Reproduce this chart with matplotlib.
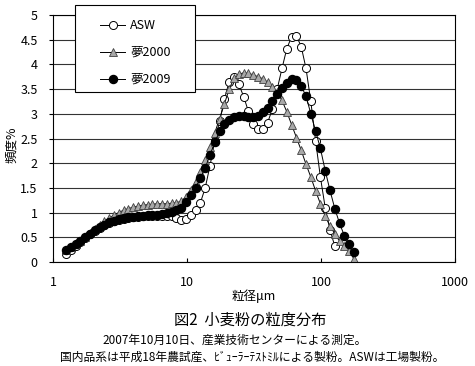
import matplotlib
matplotlib.use('Agg')
import matplotlib.pyplot as plt
from matplotlib.patches import Rectangle

plt.rcParams['font.family'] = ['Noto Sans CJK JP', 'DejaVu Sans']

# particle size (um)
x_um = [1.250, 1.358, 1.475, 1.602, 1.739, 1.889, 2.051, 2.227, 2.419, 2.627,
        2.852, 3.097, 3.364, 3.653, 3.967, 4.308, 4.679, 5.081, 5.518, 5.992,
        6.507, 7.068, 7.676, 8.336, 9.053, 9.829, 10.67, 11.59, 12.59, 13.67,
        14.85, 16.13, 17.51, 19.02, 20.65, 22.43, 24.36, 26.45, 28.72, 31.19,
        33.88, 36.79, 39.95, 43.39, 47.12, 51.17, 55.57, 60.35, 65.54, 71.17,
        77.29, 83.94, 91.15, 98.97, 107.5, 116.7, 126.8, 137.7, 149.5, 162.4,
        176.3]

# frequency %
asw = [0.17, 0.24, 0.32, 0.40, 0.48, 0.56, 0.63, 0.69, 0.74, 0.79,
       0.83, 0.86, 0.88, 0.90, 0.91, 0.92, 0.93, 0.93, 0.94, 0.94,
       0.94, 0.94, 0.93, 0.90, 0.86, 0.87, 0.95, 1.05, 1.20, 1.50,
       1.95, 2.45, 2.85, 3.30, 3.65, 3.75, 3.60, 3.35, 3.05, 2.80,
       2.70, 2.70, 2.82, 3.10, 3.50, 3.92, 4.32, 4.56, 4.58, 4.36,
       3.92, 3.25, 2.45, 1.72, 1.10, 0.65, 0.32]

yume2000 = [0.25, 0.30, 0.36, 0.43, 0.51, 0.59, 0.67, 0.75, 0.82, 0.89,
            0.95, 1.00, 1.05, 1.08, 1.11, 1.13, 1.15, 1.16, 1.17, 1.18,
            1.18, 1.18, 1.19, 1.20, 1.23, 1.32, 1.45, 1.62, 1.83, 2.07,
            2.33, 2.62, 2.90, 3.20, 3.50, 3.72, 3.80, 3.83, 3.82, 3.79,
            3.75, 3.71, 3.64, 3.54, 3.44, 3.27, 3.04, 2.78, 2.52, 2.26,
            1.98, 1.72, 1.44, 1.18, 0.93, 0.73, 0.57, 0.42, 0.32, 0.22,
            0.06]

yume2009 = [0.25, 0.30, 0.36, 0.43, 0.50, 0.57, 0.64, 0.70, 0.75, 0.80,
            0.84, 0.87, 0.89, 0.91, 0.92, 0.93, 0.94, 0.95, 0.95, 0.96,
            0.97, 0.99, 1.01, 1.05, 1.10, 1.21, 1.35, 1.50, 1.70, 1.90,
            2.17, 2.42, 2.65, 2.80, 2.88, 2.94, 2.96, 2.96, 2.94, 2.93,
            2.96, 3.03, 3.12, 3.26, 3.40, 3.53, 3.62, 3.70, 3.68, 3.56,
            3.36, 3.00, 2.65, 2.30, 1.85, 1.45, 1.08, 0.78, 0.53, 0.36,
            0.20]

W, H = 475, 366
fig = plt.figure(figsize=(W / 100, H / 100), dpi=100)
ax = fig.add_axes([53 / W, 1 - 262 / H, 402 / W, 247 / H])

ax.plot(x_um[:len(asw)], asw, '-o', color='black', lw=0.7, ms=5.8,
        mfc='white', mec='black', mew=0.7, label='ASW')
ax.plot(x_um, yume2000, '-^', color='black', lw=0.7, ms=6.2,
        mfc='#a8a8a8', mec='#404040', mew=0.6, label='夢2000')
ax.plot(x_um, yume2009, '-o', color='black', lw=0.7, ms=5.8,
        mfc='black', mec='black', label='夢2009')

ax.set_xscale('log')
ax.set_xlim(1, 1000)
ax.set_ylim(0, 5)
ax.set_xticks([1, 10, 100, 1000])
ax.set_xticklabels(['1', '10', '100', '1000'])
ax.minorticks_off()
ax.set_yticks([0, 0.5, 1, 1.5, 2, 2.5, 3, 3.5, 4, 4.5, 5])
ax.set_yticklabels(['0', '0.5', '1', '1.5', '2', '2.5', '3', '3.5', '4', '4.5', '5'])
ax.yaxis.grid(True, color='#333333', lw=0.8)
ax.set_axisbelow(True)
ax.tick_params(axis='x', direction='in', length=3, pad=10, labelsize=9)
ax.tick_params(axis='y', direction='out', length=3, pad=8, labelsize=9)
for s in ax.spines.values():
    s.set_linewidth(0.8)
    s.set_color('black')

# legend box
fig.patches.append(Rectangle((75 / W, 1 - 92 / H), 120 / W, 87 / H,
                             transform=fig.transFigure, facecolor='white',
                             edgecolor='black', lw=0.8, zorder=5))
leg = fig.legend(loc='upper left', bbox_to_anchor=(100 / W, 1 - 19 / H),
                 frameon=False, fontsize=9, borderpad=0, borderaxespad=0,
                 handlelength=2.0, handletextpad=0.4, labelspacing=1.12)
leg.set_zorder(6)

fig.text(12 / W, 1 - 145 / H, '頻度%', rotation=90, ha='center', va='center', fontsize=9)
fig.text(254 / W, 1 - 296 / H, '粒径μm', ha='center', va='center', fontsize=9)
fig.text(250 / W, 1 - 320 / H, '図2  小麦粉の粒度分布', ha='center', va='center', fontsize=11)
fig.text(235 / W, 1 - 340 / H, '2007年10月10日、産業技術センターによる測定。',
         ha='center', va='center', fontsize=8.5)
fig.text(252 / W, 1 - 357 / H, '国内品系は平成18年農試産、ﾋﾞｭｰﾗｰﾃｽﾄﾐﾙによる製粉。ASWは工場製粉。',
         ha='center', va='center', fontsize=8.5)

fig.savefig('out.png', dpi=100)
